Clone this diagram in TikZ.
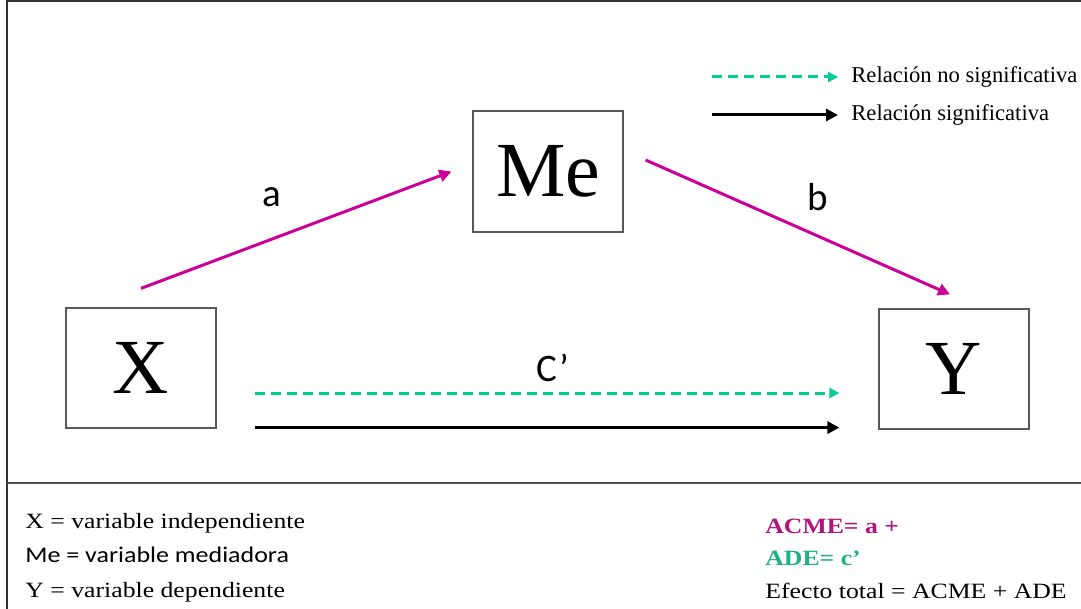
\documentclass[tikz,border=0pt]{standalone}
\usepackage{fontspec}
\setmainfont{Liberation Serif}
\newfontfamily\calibri{Carlito}
\newfontfamily\widerm[FakeStretch=1.18]{Liberation Serif}
\newfontfamily\widecal[FakeStretch=1.16]{Carlito}
\usetikzlibrary{arrows.meta}
\definecolor{medmag}{RGB}{204,0,153}
\definecolor{medgreen}{RGB}{0,204,153}
\definecolor{acmecol}{RGB}{176,18,127}
\definecolor{adecol}{RGB}{26,178,135}

\begin{document}
\begin{tikzpicture}[x=0.5pt, y=-0.5pt,
  var/.style={draw=black!65, line width=0.6pt, minimum width=75pt, minimum height=60pt, inner sep=0pt, font=\fontsize{39}{39}\selectfont},
  pathlbl/.style={inner sep=0pt, font=\calibri\fontsize{19.5}{20}\selectfont},
  magarrow/.style={medmag, line width=1.5pt, -{Triangle[length=6pt,width=6pt]}},
  nsarrow/.style={medgreen, line width=1.5pt, dash pattern=on 5pt off 3pt, -{Triangle[length=5pt,width=5pt]}},
  sarrow/.style={black, line width=1.5pt, -{Triangle[length=6pt,width=6pt]}},
  legend/.style={anchor=west, inner sep=0pt, font=\fontsize{11.3}{12}\selectfont},
  note/.style={anchor=base west, inner sep=0pt, font=\widerm\fontsize{10.9}{12}\selectfont}]

  \useasboundingbox (0,0) rectangle (1081,609);

  % frame
  \draw[line width=1pt, black!80] (1081,1) -- (7,1) -- (7,609);
  \draw[line width=1pt, black!70] (7,483) -- (1081,483);

  % variables
  \node[var] (X) at (141,368) {X};
  \node[var, minimum height=60.5pt] (Me) at (548,171.5) {Me};
  \node[var] (Y) at (954,369) {Y};

  % paths
  \draw[magarrow] ([yshift=9.5pt]X.north) -- ([xshift=-10.5pt]Me.west);
  \draw[magarrow] ([xshift=11pt,yshift=5.75pt]Me.east) -- ([xshift=-2pt,yshift=7pt]Y.north);
  \draw[nsarrow] ([xshift=19pt,yshift=-12.5pt]X.east) -- ([xshift=-19.5pt,yshift=-12pt]Y.west);
  \draw[sarrow] ([xshift=19pt,yshift=0.5pt]X.south east) -- ([xshift=-19.5pt,yshift=1pt]Y.south west);

  \node[pathlbl] (la) at (272,197) {a};
  \node[pathlbl] (lb) at (818,197) {b};
  \node[pathlbl] (lc) at (553,368) {C’};

  % legend
  \node[legend] (nsl) at (851,77) {Relación no significativa};
  \node[legend] (sl) at (851,115) {Relación significativa};
  \coordinate (nsA) at (712,77);
  \coordinate (sA) at (712,115);
  \draw[nsarrow] (nsA) -- ([xshift=-6.5pt]nsl.west);
  \draw[sarrow] (sA) -- ([xshift=-6.5pt]sl.west);

  % notes
  \node[note] (nx) at (25,528) {X = variable independiente};
  \node[note, font=\widecal\fontsize{11.2}{12}\selectfont] (nme) at (25,562) {Me = variable mediadora};
  \node[note] (ny) at (25,597) {Y = variable dependiente};
  \node[note, font=\widerm\bfseries\fontsize{10.9}{12}\selectfont, text=acmecol] (acme) at (765,533) {ACME= a +};
  \node[note, font=\widerm\bfseries\fontsize{10.9}{12}\selectfont, text=adecol] (ade) at (765,565) {ADE= c’};
  \node[note] (tot) at (765,598) {Efecto total = ACME + ADE};
\end{tikzpicture}
\end{document}
